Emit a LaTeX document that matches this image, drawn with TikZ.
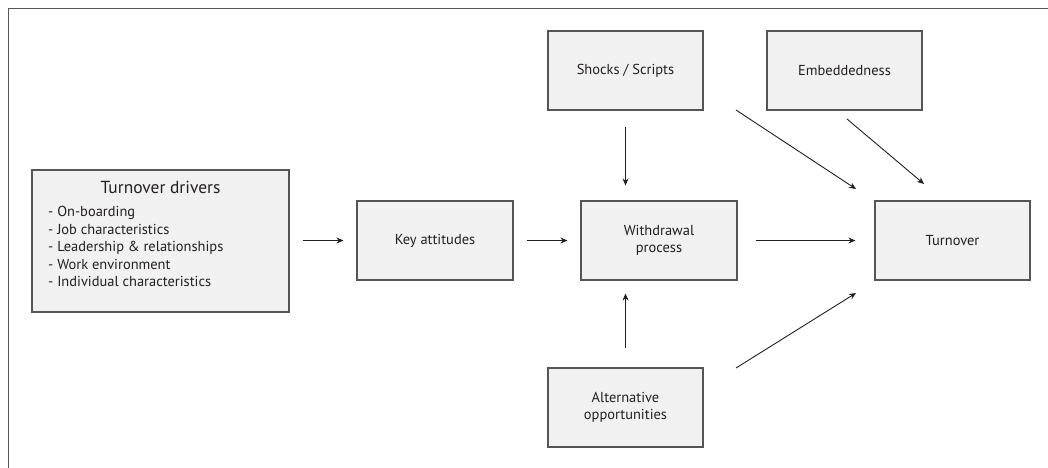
\documentclass[tikz,border=0pt]{standalone}
\usepackage{fontspec}
\setmainfont{PT Sans}
\usetikzlibrary{arrows.meta}
\definecolor{boxfill}{HTML}{F1F1F2}
\definecolor{boxline}{HTML}{555555}
\definecolor{ink}{HTML}{231F20}
\begin{document}
\begin{tikzpicture}[x=1bp,y=-1bp,
  box/.style={draw=boxline, line width=1.1bp, fill=boxfill, minimum width=155bp,
    minimum height=79bp, inner sep=0pt, align=center, text=ink,
    font=\fontsize{14.5}{17.5}\selectfont},
  link/.style={draw=ink, line width=0.9bp, -{Stealth[length=7bp,width=6bp]}},
  txt/.style={inner sep=0pt, text=ink}]
\useasboundingbox (0,0) rectangle (1048,468);
\fill[white] (0,0) rectangle (1048,468);
% outer frame: left and top edges only
\draw[boxline, line width=1.5bp] (8.5,468) -- (8.5,8.5) -- (1048,8.5);

% boxes
\node[box, minimum width=257bp, minimum height=142bp] (drivers) at (160.5,241) {};
\node[txt, anchor=base, font=\fontsize{17.5}{20}\selectfont] (drvtitle) at (160.5,194) {Turnover drivers};
\node[txt, anchor=north west, align=left, font=\fontsize{14.5}{17.5}\selectfont] (drvlist) at (48,206.5)
  {- On-boarding\\- Job characteristics\\- Leadership \& relationships\\- Work environment\\- Individual characteristics};

\node[box, minimum width=156bp] (key) at (435,240.5) {Key attitudes};
\node[box] (shocks) at (625.5,70.5) {Shocks / Scripts};
\node[box, minimum width=156bp] (withdrawal) at (659,240.5) {Withdrawal\\process};
\node[box] (alt) at (625.5,407.5) {Alternative\\opportunities};
\node[box] (embed) at (844.5,70.5) {Embeddedness};
\node[box] (turnover) at (952.5,240.5) {Turnover};

% free ends of the diagonal links
\coordinate (s1) at (736,110);
\coordinate (t1) at (856,189);
\coordinate (e1) at (847,119);
\coordinate (t2) at (924,184);
\coordinate (a1) at (736,368);
\coordinate (t3) at (856,293);

% links
\draw[link, shorten <=13bp, shorten >=13bp] (drivers.east |- key.west) -- (key.west);
\draw[link, shorten <=13bp, shorten >=13bp] (key.east) -- (withdrawal.west);
\draw[link, shorten <=16bp, shorten >=15bp] (shocks.south) -- (shocks.south |- withdrawal.north);
\draw[link, shorten <=19bp, shorten >=13bp] (alt.north) -- (alt.north |- withdrawal.south);
\draw[link, shorten <=18bp, shorten >=19bp] (withdrawal.east) -- (turnover.west);
\draw[link] (s1) -- (t1);
\draw[link] (e1) -- (t2);
\draw[link] (a1) -- (t3);
\end{tikzpicture}
\end{document}
